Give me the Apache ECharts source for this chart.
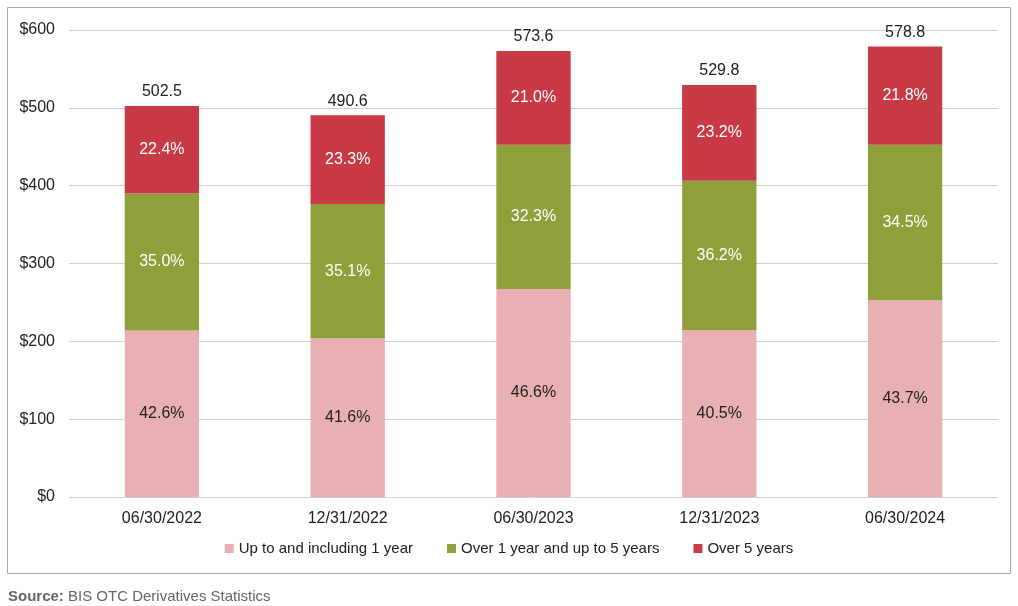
<!DOCTYPE html>
<html><head><meta charset="utf-8">
<script src="https://cdn.jsdelivr.net/npm/echarts@6/dist/echarts.min.js"></script>
<style>html,body{margin:0;padding:0;background:#fff}#c{width:1018px;height:606px}</style>
</head><body><div id="c"></div>
<script>
const categories = ['06/30/2022','12/31/2022','06/30/2023','12/31/2023','06/30/2024'];
const totals = [502.5, 490.6, 573.6, 529.8, 578.8];
const pctShort = [42.6, 41.6, 46.6, 40.5, 43.7];
const pctMid = [35.0, 35.1, 32.3, 36.2, 34.5];
const pctLong = [22.4, 23.3, 21.0, 23.2, 21.8];
const seriesNames = ['Up to and including 1 year','Over 1 year and up to 5 years','Over 5 years'];
const colors = ['#e8b0b3','#8da03a','#c83a45'];

const pcts = [pctShort, pctMid, pctLong];
const font = 'Liberation Sans, Arial, sans-serif';
const chart = echarts.init(document.getElementById('c'));
const series = pcts.map((p, i) => ({
  name: seriesNames[i], type: 'bar', stack: 'a', barWidth: '40%',
  itemStyle: {color: colors[i]},
  data: p.map((v, j) => ({value: totals[j] * v / 100, pct: v})),
  label: {show: true, position: 'inside', fontFamily: font, fontSize: 16,
    color: i === 0 ? '#222' : '#fff',
    formatter: prm => prm.data.pct.toFixed(1) + '%'}
}));
series.push({
  name: 'total', type: 'bar', stack: 'a', barWidth: '40%',
  itemStyle: {color: 'transparent'},
  data: totals.map(() => 0),
  label: {show: true, position: 'top', distance: 6, fontFamily: font, fontSize: 16, color: '#222',
    formatter: prm => totals[prm.dataIndex].toFixed(1)}
});
chart.setOption({
  animation: false,
  backgroundColor: '#fff',
  grid: {left: 69, right: 20, top: 30, bottom: 109},
  legend: {data: seriesNames, bottom: 45, left: 'center', itemWidth: 9, itemHeight: 9, itemGap: 34,
    icon: 'rect', textStyle: {fontFamily: font, fontSize: 15, color: '#222'}},
  xAxis: {type: 'category', data: categories,
    axisLine: {show: false}, axisTick: {show: false},
    axisLabel: {fontFamily: font, fontSize: 16, color: '#222', margin: 14}},
  yAxis: {type: 'value', min: 0, max: 600, interval: 100,
    axisLabel: {fontFamily: font, fontSize: 16, color: '#222', margin: 14, formatter: v => '$' + v},
    splitLine: {lineStyle: {color: '#d0d0d0', width: 1}}},
  series: series,
  graphic: [
    {type: 'rect', shape: {x: 7.5, y: 7.5, width: 1003, height: 566}, silent: true,
      style: {fill: null, stroke: '#a8a8a8', lineWidth: 1}, z: -1},
    {type: 'text', left: 8, top: 589, style: {
      text: '{b|Source:} BIS OTC Derivatives Statistics',
      font: '15px ' + font, fill: '#666',
      rich: {b: {fontWeight: 'bold', fontSize: 15, fontFamily: font, fill: '#666'}}}}
  ]
});
</script></body></html>
